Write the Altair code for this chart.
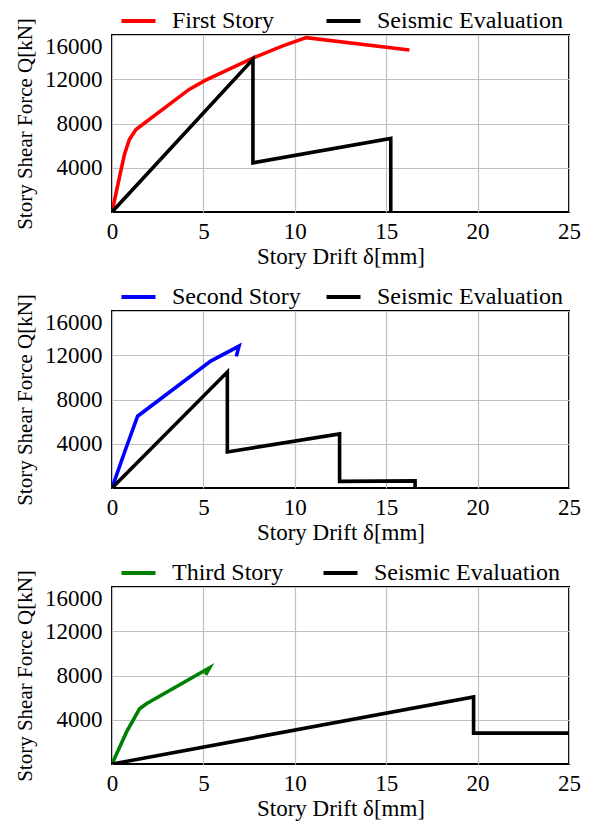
import altair as alt
import pandas as pd

FONT = "Liberation Serif"

# ---- Panel 1: First Story ----
p1_story_x = [0, 0.4, 0.68, 0.95, 1.31, 4.22, 5.1, 7.67, 9.31, 10.62, 16.27]
p1_story_y = [0, 3080, 5200, 6560, 7460, 11080, 11900, 13890, 15000, 15760, 14640]
p1_eval_x = [0, 7.71, 7.71, 15.25, 15.25]
p1_eval_y = [0, 13800, 4440, 6650, 0]

# ---- Panel 2: Second Story ----
p2_story_x = [0, 0.7, 1.40, 5.40, 6.95, 6.8]
p2_story_y = [0, 3300, 6490, 11470, 12830, 11900]
p2_eval_x = [0, 6.31, 6.31, 12.45, 12.45, 16.58, 16.58]
p2_eval_y = [0, 10480, 3260, 4890, 600, 640, 0]

# ---- Panel 3: Third Story ----
p3_story_x = [0, 0.79, 1.51, 1.88, 5.34, 5.12]
p3_story_y = [0, 2880, 5000, 5450, 8700, 8050]
p3_eval_x = [0, 19.78, 19.78, 25]
p3_eval_y = [0, 6060, 2790, 2790]

x_ticks = [0, 5, 10, 15, 20, 25]
y_ticks = [4000, 8000, 12000, 16000]
EVAL = "Seismic Evaluation"


def make_df(sx, sy, sname, ex, ey):
    rows = []
    for i, (a, b) in enumerate(zip(sx, sy)):
        rows.append(dict(x=a, y=b, series=sname, ord=i))
    for i, (a, b) in enumerate(zip(ex, ey)):
        rows.append(dict(x=a, y=b, series=EVAL, ord=i))
    return pd.DataFrame(rows)


def panel(df, sname, scolor, colpad):
    return alt.Chart(df).mark_line(strokeWidth=3.6, clip=True).encode(
        x=alt.X("x:Q",
                scale=alt.Scale(domain=[0, 25], nice=False, zero=False),
                axis=alt.Axis(values=x_ticks, title="Story Drift δ[mm]",
                              labelPadding=8, titlePadding=2, labelFlush=False)),
        y=alt.Y("y:Q",
                scale=alt.Scale(domain=[0, 16000], nice=False),
                axis=alt.Axis(values=y_ticks, format="d",
                              title="Story Shear Force Q[kN]",
                              labelPadding=10, titlePadding=9,
                              titleFontSize=21, labelFlush=True)),
        color=alt.Color("series:N",
                        scale=alt.Scale(domain=[sname, EVAL], range=[scolor, "black"]),
                        legend=alt.Legend(orient="none", legendX=6, legendY=-26,
                                          direction="horizontal", columns=2,
                                          columnPadding=colpad, title=None,
                                          padding=0,
                                          symbolType="M-1,0H3", symbolSize=289,
                                          symbolStrokeWidth=4, labelOffset=30,
                                          labelLimit=400,
                                          labelFont=FONT, labelFontSize=24,
                                          labelColor="black")),
        order="ord:Q",
    ).properties(width=457, height=177)


c1 = panel(make_df(p1_story_x, p1_story_y, "First Story", p1_eval_x, p1_eval_y),
           "First Story", "#ff0000", 43)
c2 = panel(make_df(p2_story_x, p2_story_y, "Second Story", p2_eval_x, p2_eval_y),
           "Second Story", "#0000ff", 17)
c3 = panel(make_df(p3_story_x, p3_story_y, "Third Story", p3_eval_x, p3_eval_y),
           "Third Story", "#008000", 31)

chart = alt.vconcat(c1, c2, c3, spacing=15).resolve_scale(color="independent").configure(
    font=FONT, padding={"left": 5, "top": 0, "right": 5, "bottom": 0}
).configure_view(
    stroke="black", strokeWidth=2
).configure_axis(
    grid=True, gridColor="#c0c0c0", gridWidth=1.2, domain=False, ticks=False,
    labelFont=FONT, labelFontSize=23, labelColor="black",
    titleFont=FONT, titleFontSize=23, titleFontWeight="normal", titleColor="black"
).configure_legend(
    labelFont=FONT
)

chart.save("out.html", embed_options={"renderer": "svg", "actions": False})
